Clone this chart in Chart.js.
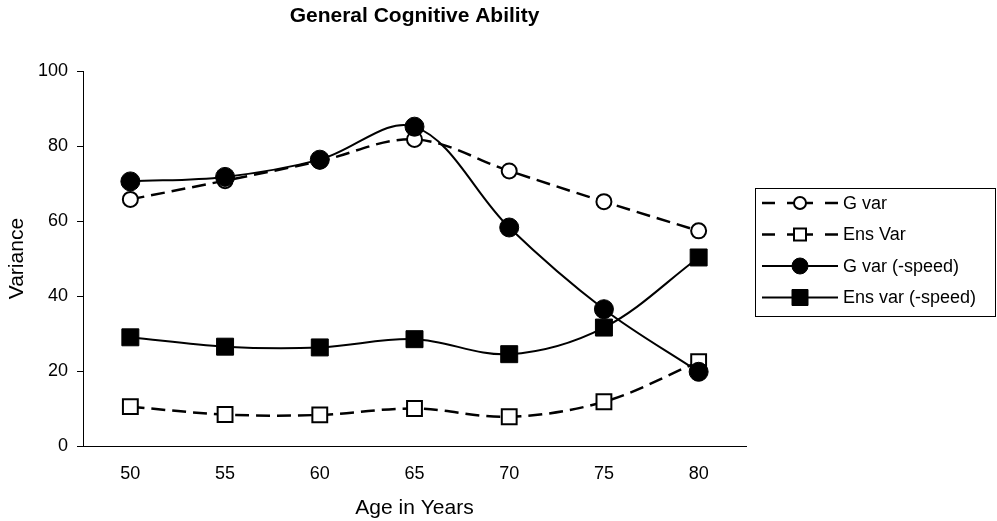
<!DOCTYPE html>
<html><head><meta charset="utf-8">
<script src="https://cdn.jsdelivr.net/npm/chart.js@4.4.0/dist/chart.umd.min.js"></script>
<style>html,body{margin:0;padding:0;background:#fff;} canvas{display:block;}</style>
</head><body>
<canvas id="c" width="997" height="521"></canvas>
<script>
const ages = ['50', '55', '60', '65', '70', '75', '80'];
const gVar = [65.8, 70.8, 76.0, 81.8, 73.4, 65.2, 57.4];
const ensVar = [10.5, 8.4, 8.3, 10.0, 7.8, 11.8, 22.5];
const gVarSpeed = [70.6, 71.8, 76.4, 85.2, 58.3, 36.5, 19.8];
const ensVarSpeed = [29.0, 26.5, 26.3, 28.5, 24.5, 31.6, 50.3];
const yTicks = [0, 20, 40, 60, 80, 100];
const seriesLabels = ['G var', 'Ens Var', 'G var (-speed)', 'Ens var (-speed)'];
const chartTitle = 'General Cognitive Ability';
const xTitle = 'Age in Years';
const yTitle = 'Variance';

const FONT = '"Liberation Sans", Arial, Helvetica, sans-serif';

function drawMarker(ctx, style, x, y, size, fill, bw) {
  ctx.save();
  ctx.setLineDash([]);
  ctx.fillStyle = fill;
  ctx.strokeStyle = '#000';
  ctx.lineWidth = bw;
  ctx.beginPath();
  if (style === 'circle') {
    ctx.arc(x, y, size, 0, Math.PI * 2);
  } else {
    ctx.rect(x - size, y - size, size * 2, size * 2);
  }
  ctx.fill();
  ctx.stroke();
  ctx.restore();
}

const boxLegend = {
  id: 'boxLegend',
  afterDraw(chart) {
    const ctx = chart.ctx;
    const x0 = 755, y0 = 188, w = 240, h = 128;
    ctx.save();
    ctx.strokeStyle = '#000';
    ctx.lineWidth = 1;
    ctx.strokeRect(x0 + 0.5, y0 + 0.5, w, h);
    chart.data.datasets.forEach((ds, i) => {
      const cy = 203 + i * 31.5;
      ctx.strokeStyle = '#000';
      ctx.lineWidth = ds.borderWidth;
      ctx.setLineDash([]);
      ctx.beginPath();
      if (ds.borderDash && ds.borderDash.length) {
        [[762, 775], [787, 813], [825, 838]].forEach(s => {
          ctx.moveTo(s[0], cy); ctx.lineTo(s[1], cy);
        });
      } else {
        ctx.moveTo(762, cy); ctx.lineTo(838, cy);
      }
      ctx.stroke();
      drawMarker(ctx, ds.pointStyle, 800, cy, ds.legendSize, ds.pointBackgroundColor, ds.pointBorderWidth);
      ctx.fillStyle = '#000';
      ctx.font = '18px ' + FONT;
      ctx.textAlign = 'left';
      ctx.textBaseline = 'middle';
      ctx.fillText(ds.label, 843, cy + 1);
    });
    ctx.restore();
  }
};

const dash = [14, 7];
new Chart(document.getElementById('c'), {
  type: 'line',
  data: {
    labels: ages,
    datasets: [
      {
        label: seriesLabels[0], data: gVar, order: 1,
        borderColor: '#000', borderWidth: 2.5, borderDash: dash,
        pointStyle: 'circle', pointRadius: 7.5, pointBorderWidth: 2,
        pointBackgroundColor: '#fff', pointBorderColor: '#000', legendSize: 6,
        tension: 0.35, fill: false
      },
      {
        label: seriesLabels[1], data: ensVar, order: 1,
        borderColor: '#000', borderWidth: 2.5, borderDash: dash,
        pointStyle: 'rect', pointRadius: 10.5, pointBorderWidth: 2,
        pointBackgroundColor: '#fff', pointBorderColor: '#000', legendSize: 6,
        tension: 0.35, fill: false
      },
      {
        label: seriesLabels[2], data: gVarSpeed, order: 0,
        borderColor: '#000', borderWidth: 2, borderDash: [],
        pointStyle: 'circle', pointRadius: 9.5, pointBorderWidth: 1,
        pointBackgroundColor: '#000', pointBorderColor: '#000', legendSize: 8,
        tension: 0.35, fill: false
      },
      {
        label: seriesLabels[3], data: ensVarSpeed, order: 0,
        borderColor: '#000', borderWidth: 2, borderDash: [],
        pointStyle: 'rect', pointRadius: 12, pointBorderWidth: 1,
        pointBackgroundColor: '#000', pointBorderColor: '#000', legendSize: 8,
        tension: 0.35, fill: false
      }
    ]
  },
  options: {
    responsive: false,
    animation: false,
    devicePixelRatio: 1,
    clip: false,
    layout: { padding: { left: 0, right: 251, top: 0, bottom: 0 } },
    plugins: {
      legend: { display: false },
      tooltip: { enabled: false },
      title: {
        display: true, text: chartTitle, fullSize: false, color: '#000',
        font: { family: FONT, size: 21, weight: 'bold' },
        padding: { top: 4, bottom: 42 }
      }
    },
    scales: {
      x: {
        type: 'category', offset: true,
        grid: { display: false, drawTicks: false },
        border: { display: true, color: '#000', width: 1 },
        ticks: { color: '#000', font: { family: FONT, size: 18 }, padding: 17, maxRotation: 0 },
        title: { display: true, text: xTitle, color: '#000', font: { family: FONT, size: 21 }, padding: { top: 0, bottom: 0 } },
        afterFit(s) { s.height = 75; }
      },
      y: {
        min: 0, max: 100,
        afterBuildTicks(s) { s.ticks = yTicks.map(v => ({ value: v })); },
        grid: { display: true, drawOnChartArea: false, drawTicks: true, tickLength: 6, color: '#000', lineWidth: 1 },
        border: { display: true, color: '#000', width: 1 },
        ticks: { color: '#000', font: { family: FONT, size: 18 }, padding: 9 },
        title: { display: true, text: yTitle, color: '#000', font: { family: FONT, size: 21 }, padding: { top: 5, bottom: 0 } },
        afterFit(s) { s.width = 83; }
      }
    }
  },
  plugins: [boxLegend]
});
</script>
</body></html>
